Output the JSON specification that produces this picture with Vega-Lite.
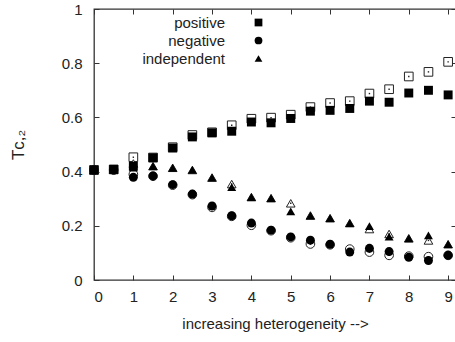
{
  "$schema": "https://vega.github.io/schema/vega-lite/v6.json",
  "width": 362,
  "height": 271,
  "autosize": {"type": "none"},
  "padding": {"left": 94, "top": 9, "right": 0, "bottom": 62},
  "background": "white",
  "config": {
    "view": {"stroke": "#333", "strokeWidth": 1.3},
    "font": "Liberation Sans",
    "axis": {"grid": false, "domain": false, "labelFont": "Liberation Sans", "titleFont": "Liberation Sans", "labelFontSize": 15, "titleFontSize": 15, "labelColor": "#222", "titleColor": "#222", "titleFontWeight": "normal", "tickColor": "#333", "tickSize": -5, "tickWidth": 1}
  },
  "data": {"values": [
    {"x":0,"y":0.406,"s":"positive","k":"filled"},{"x":0.5,"y":0.408,"s":"positive","k":"filled"},{"x":1,"y":0.42,"s":"positive","k":"filled"},{"x":1.5,"y":0.451,"s":"positive","k":"filled"},{"x":2,"y":0.487,"s":"positive","k":"filled"},{"x":2.5,"y":0.528,"s":"positive","k":"filled"},{"x":3,"y":0.543,"s":"positive","k":"filled"},{"x":3.5,"y":0.549,"s":"positive","k":"filled"},{"x":4,"y":0.583,"s":"positive","k":"filled"},{"x":4.5,"y":0.58,"s":"positive","k":"filled"},{"x":5,"y":0.596,"s":"positive","k":"filled"},{"x":5.5,"y":0.623,"s":"positive","k":"filled"},{"x":6,"y":0.626,"s":"positive","k":"filled"},{"x":6.5,"y":0.633,"s":"positive","k":"filled"},{"x":7,"y":0.66,"s":"positive","k":"filled"},{"x":7.5,"y":0.656,"s":"positive","k":"filled"},{"x":8,"y":0.69,"s":"positive","k":"filled"},{"x":8.5,"y":0.7,"s":"positive","k":"filled"},{"x":9,"y":0.683,"s":"positive","k":"filled"},
    {"x":0,"y":0.406,"s":"positive","k":"open"},{"x":0.5,"y":0.408,"s":"positive","k":"open"},{"x":1,"y":0.453,"s":"positive","k":"open"},{"x":1.5,"y":0.452,"s":"positive","k":"open"},{"x":2,"y":0.49,"s":"positive","k":"open"},{"x":2.5,"y":0.535,"s":"positive","k":"open"},{"x":3,"y":0.545,"s":"positive","k":"open"},{"x":3.5,"y":0.571,"s":"positive","k":"open"},{"x":4,"y":0.595,"s":"positive","k":"open"},{"x":4.5,"y":0.599,"s":"positive","k":"open"},{"x":5,"y":0.61,"s":"positive","k":"open"},{"x":5.5,"y":0.638,"s":"positive","k":"open"},{"x":6,"y":0.653,"s":"positive","k":"open"},{"x":6.5,"y":0.66,"s":"positive","k":"open"},{"x":7,"y":0.688,"s":"positive","k":"open"},{"x":7.5,"y":0.704,"s":"positive","k":"open"},{"x":8,"y":0.751,"s":"positive","k":"open"},{"x":8.5,"y":0.768,"s":"positive","k":"open"},{"x":9,"y":0.805,"s":"positive","k":"open"},
    {"x":0,"y":0.406,"s":"negative","k":"filled"},{"x":0.5,"y":0.406,"s":"negative","k":"filled"},{"x":1,"y":0.379,"s":"negative","k":"filled"},{"x":1.5,"y":0.384,"s":"negative","k":"filled"},{"x":2,"y":0.352,"s":"negative","k":"filled"},{"x":2.5,"y":0.317,"s":"negative","k":"filled"},{"x":3,"y":0.273,"s":"negative","k":"filled"},{"x":3.5,"y":0.237,"s":"negative","k":"filled"},{"x":4,"y":0.21,"s":"negative","k":"filled"},{"x":4.5,"y":0.184,"s":"negative","k":"filled"},{"x":5,"y":0.159,"s":"negative","k":"filled"},{"x":5.5,"y":0.147,"s":"negative","k":"filled"},{"x":6,"y":0.132,"s":"negative","k":"filled"},{"x":6.5,"y":0.103,"s":"negative","k":"filled"},{"x":7,"y":0.117,"s":"negative","k":"filled"},{"x":7.5,"y":0.105,"s":"negative","k":"filled"},{"x":8,"y":0.084,"s":"negative","k":"filled"},{"x":8.5,"y":0.072,"s":"negative","k":"filled"},{"x":9,"y":0.091,"s":"negative","k":"filled"},
    {"x":0,"y":0.406,"s":"negative","k":"open"},{"x":0.5,"y":0.406,"s":"negative","k":"open"},{"x":1,"y":0.39,"s":"negative","k":"open"},{"x":1.5,"y":0.383,"s":"negative","k":"open"},{"x":2,"y":0.35,"s":"negative","k":"open"},{"x":2.5,"y":0.315,"s":"negative","k":"open"},{"x":3,"y":0.268,"s":"negative","k":"open"},{"x":3.5,"y":0.235,"s":"negative","k":"open"},{"x":4,"y":0.202,"s":"negative","k":"open"},{"x":4.5,"y":0.182,"s":"negative","k":"open"},{"x":5,"y":0.156,"s":"negative","k":"open"},{"x":5.5,"y":0.133,"s":"negative","k":"open"},{"x":6,"y":0.13,"s":"negative","k":"open"},{"x":6.5,"y":0.114,"s":"negative","k":"open"},{"x":7,"y":0.103,"s":"negative","k":"open"},{"x":7.5,"y":0.091,"s":"negative","k":"open"},{"x":8,"y":0.088,"s":"negative","k":"open"},{"x":8.5,"y":0.086,"s":"negative","k":"open"},{"x":9,"y":0.091,"s":"negative","k":"open"},
    {"x":0,"y":0.406,"s":"independent","k":"filled"},{"x":0.5,"y":0.408,"s":"independent","k":"filled"},{"x":1,"y":0.415,"s":"independent","k":"filled"},{"x":1.5,"y":0.42,"s":"independent","k":"filled"},{"x":2,"y":0.414,"s":"independent","k":"filled"},{"x":2.5,"y":0.406,"s":"independent","k":"filled"},{"x":3,"y":0.378,"s":"independent","k":"filled"},{"x":3.5,"y":0.343,"s":"independent","k":"filled"},{"x":4,"y":0.306,"s":"independent","k":"filled"},{"x":4.5,"y":0.302,"s":"independent","k":"filled"},{"x":5,"y":0.253,"s":"independent","k":"filled"},{"x":5.5,"y":0.238,"s":"independent","k":"filled"},{"x":6,"y":0.228,"s":"independent","k":"filled"},{"x":6.5,"y":0.21,"s":"independent","k":"filled"},{"x":7,"y":0.199,"s":"independent","k":"filled"},{"x":7.5,"y":0.16,"s":"independent","k":"filled"},{"x":8,"y":0.154,"s":"independent","k":"filled"},{"x":8.5,"y":0.165,"s":"independent","k":"filled"},{"x":9,"y":0.132,"s":"independent","k":"filled"},
    {"x":0,"y":0.406,"s":"independent","k":"open"},{"x":0.5,"y":0.408,"s":"independent","k":"open"},{"x":1,"y":0.43,"s":"independent","k":"open"},{"x":1.5,"y":0.42,"s":"independent","k":"open"},{"x":2,"y":0.414,"s":"independent","k":"open"},{"x":2.5,"y":0.406,"s":"independent","k":"open"},{"x":3,"y":0.378,"s":"independent","k":"open"},{"x":3.5,"y":0.354,"s":"independent","k":"open"},{"x":4,"y":0.306,"s":"independent","k":"open"},{"x":4.5,"y":0.302,"s":"independent","k":"open"},{"x":5,"y":0.283,"s":"independent","k":"open"},{"x":5.5,"y":0.238,"s":"independent","k":"open"},{"x":6,"y":0.228,"s":"independent","k":"open"},{"x":6.5,"y":0.21,"s":"independent","k":"open"},{"x":7,"y":0.188,"s":"independent","k":"open"},{"x":7.5,"y":0.17,"s":"independent","k":"open"},{"x":8,"y":0.154,"s":"independent","k":"open"},{"x":8.5,"y":0.146,"s":"independent","k":"open"},{"x":9,"y":0.132,"s":"independent","k":"open"}
  ]},
  "layer": [
    {
      "transform": [{"filter": "datum.k == 'open' && datum.s == 'positive'"}],
      "mark": {"type": "point", "shape": "square", "filled": false, "fill": "white", "fillOpacity": 1, "stroke": "#222", "strokeWidth": 1, "opacity": 1, "size": 75},
      "encoding": {
        "x": {"field": "x", "type": "quantitative", "scale": {"domain": [0, 9.2], "nice": false, "zero": false}, "axis": {"orient": "bottom", "values": [0,1,2,3,4,5,6,7,8,9], "title": "increasing heterogeneity -->", "labelPadding": 14, "titlePadding": 12}},
        "y": {"field": "y", "type": "quantitative", "scale": {"domain": [0, 1], "nice": false}, "axis": {"orient": "left", "values": [0,0.2,0.4,0.6,0.8,1], "format": "~g", "title": "Tᴄ,₂", "titleFontSize": 17, "labelPadding": 17, "titlePadding": 34, "labelFlush": false}}
      }
    },
    {
      "transform": [{"filter": "datum.k == 'open' && datum.s == 'negative'"}],
      "mark": {"type": "point", "shape": "circle", "filled": false, "fill": "white", "fillOpacity": 1, "stroke": "#222", "strokeWidth": 1, "opacity": 1, "size": 75},
      "encoding": {
        "x": {"field": "x", "type": "quantitative", "axis": null},
        "y": {"field": "y", "type": "quantitative", "axis": null}
      }
    },
    {
      "transform": [{"filter": "datum.k == 'open' && datum.s == 'independent'"}],
      "mark": {"type": "point", "shape": "triangle-up", "filled": false, "fill": "white", "fillOpacity": 1, "stroke": "#222", "strokeWidth": 1, "opacity": 1, "size": 75},
      "encoding": {
        "x": {"field": "x", "type": "quantitative", "axis": null},
        "y": {"field": "y", "type": "quantitative", "axis": null}
      }
    },
    {
      "transform": [{"filter": "datum.k == 'open'"}],
      "mark": {"type": "square", "filled": true, "color": "#222", "size": 2, "opacity": 1},
      "encoding": {
        "x": {"field": "x", "type": "quantitative", "axis": {"orient": "top", "values": [0,1,2,3,4,5,6,7,8,9], "labels": false, "title": null}},
        "y": {"field": "y", "type": "quantitative", "axis": {"orient": "right", "values": [0,0.2,0.4,0.6,0.8,1], "labels": false, "title": null}}
      }
    },
    {
      "transform": [{"filter": "datum.k == 'filled'"}],
      "mark": {"type": "point", "filled": true, "color": "black", "opacity": 1},
      "encoding": {
        "x": {"field": "x", "type": "quantitative", "axis": null},
        "y": {"field": "y", "type": "quantitative", "axis": null},
        "shape": {"field": "s", "type": "nominal", "scale": {"domain": ["positive", "negative", "independent"], "range": ["square", "circle", "triangle-up"]},
          "legend": {"orient": "none", "legendX": 157, "legendY": 6, "title": null, "padding": 0, "labelFontSize": 15, "labelFont": "Liberation Sans", "labelColor": "#222", "labelAlign": "right", "labelOffset": -41, "symbolSize": 60, "symbolFillColor": "black", "symbolStrokeColor": "black", "symbolOpacity": 1, "rowPadding": 2}},
        "size": {"value": 80}
      }
    }
  ],
  "resolve": {"axis": {"x": "independent", "y": "independent"}}
}
